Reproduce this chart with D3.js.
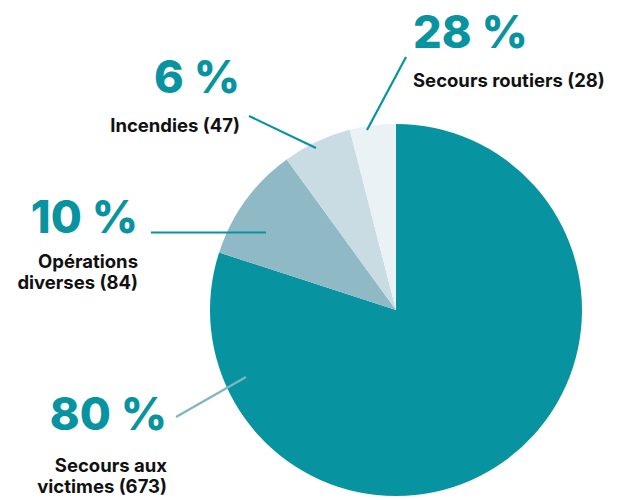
<!DOCTYPE html>
<html>
<head>
<meta charset="utf-8">
<script src="https://cdn.jsdelivr.net/npm/d3@7"></script>
<style>
html,body{margin:0;padding:0;background:#fff;}
svg{display:block;}
</style>
</head>
<body>
<svg id="chart" width="632" height="500"></svg>
<script>
// Data
const categories = ["Secours aux victimes", "Opérations diverses", "Incendies", "Secours routiers"];
const counts = [673, 84, 47, 28];
const shares = [80, 10, 6, 4];
const pctLabels = ["80 %", "10 %", "6 %", "28 %"];
const labelLines = [["Secours aux", "victimes (673)"], ["Opérations", "diverses (84)"], ["Incendies (47)"], ["Secours routiers (28)"]];
const colors = ["#0793a0", "#90b9c6", "#c9dce3", "#eaf2f5"];

const svg = d3.select("#chart");
const cx = 396, cy = 310, R = 186;
const teal = "#0793a0";

const pie = d3.pie().sort(null).value(d => d.share);
const arc = d3.arc().innerRadius(0).outerRadius(R);
const data = categories.map((c, i) => ({cat: c, share: shares[i], count: counts[i]}));

const g = svg.append("g").attr("transform", `translate(${cx},${cy})`);
g.selectAll("path").data(pie(data)).join("path")
  .attr("d", arc)
  .attr("fill", (d, i) => colors[i]);

// Label layout (annotation positions)
const layout = [
  {anchor: "end", x: 167, pctY: 430, lineY: 472, line: [[176, 417], [246, 377]], lineColor: "#7fb6c1"},
  {anchor: "end", x: 138, pctY: 233, lineY: 268, line: [[151, 232.5], [266, 232.5]], lineColor: teal},
  {anchor: "end", x: 240, pctY: 93, lineY: 132, line: [[249, 116], [316, 148]], lineColor: teal},
  {anchor: "start", x: 413, pctY: 48, lineY: 87, line: [[406, 57], [367, 130]], lineColor: teal}
];

layout.forEach((L, i) => {
  svg.append("line")
    .attr("x1", L.line[0][0]).attr("y1", L.line[0][1])
    .attr("x2", L.line[1][0]).attr("y2", L.line[1][1])
    .attr("stroke", L.lineColor).attr("stroke-width", 2.2);
  svg.append("text")
    .attr("x", L.x).attr("y", L.pctY)
    .attr("text-anchor", L.anchor)
    .attr("font-family", "Inter, 'Noto Sans', sans-serif")
    .attr("font-weight", 800)
    .attr("font-size", 45)
    .attr("fill", teal)
    .text(pctLabels[i]);
  labelLines[i].forEach((t, j) => {
    svg.append("text")
      .attr("x", L.x).attr("y", L.lineY + j * 21)
      .attr("text-anchor", L.anchor)
      .attr("font-family", "Inter, 'Noto Sans', sans-serif")
      .attr("font-weight", 700)
      .attr("font-size", 18.5)
      .attr("fill", "#111")
      .text(t);
  });
});
</script>
</body>
</html>
